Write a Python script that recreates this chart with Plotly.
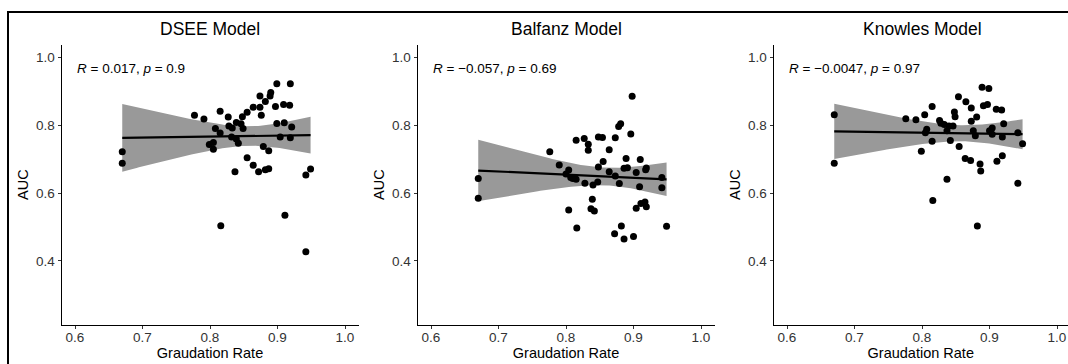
import numpy as np
import plotly.graph_objects as go

titles = ["DSEE Model", "Balfanz Model", "Knowles Model"]
stat_labels = ["<i>R</i> = 0.017, <i>p</i> = 0.9",
               "<i>R</i> = \u22120.057, <i>p</i> = 0.69",
               "<i>R</i> = \u22120.0047, <i>p</i> = 0.97"]
x_ticks = [0.6, 0.7, 0.8, 0.9, 1.0]
y_ticks = [0.4, 0.6, 0.8, 1.0]

grad_dsee = [0.670, 0.670, 0.777, 0.791, 0.815, 0.808, 0.815, 0.799, 0.805, 0.805,
             0.827, 0.828, 0.833, 0.839, 0.846, 0.849, 0.848, 0.855, 0.832, 0.839,
             0.842, 0.837, 0.816, 0.855, 0.864, 0.872, 0.882, 0.887, 0.879, 0.887,
             0.864, 0.874, 0.876, 0.874, 0.882, 0.889, 0.890, 0.899, 0.919, 0.897,
             0.909, 0.918, 0.899, 0.910, 0.921, 0.904, 0.919, 0.911, 0.942, 0.949,
             0.942]
auc_dsee = [0.722, 0.688, 0.829, 0.818, 0.841, 0.790, 0.777, 0.743, 0.749, 0.729,
            0.824, 0.798, 0.792, 0.808, 0.804, 0.790, 0.825, 0.838, 0.765, 0.759,
            0.747, 0.663, 0.504, 0.704, 0.682, 0.663, 0.669, 0.672, 0.737, 0.725,
            0.853, 0.853, 0.829, 0.886, 0.870, 0.886, 0.896, 0.922, 0.922, 0.855,
            0.861, 0.859, 0.805, 0.807, 0.795, 0.765, 0.763, 0.535, 0.653, 0.671,
            0.427]

grad_balfanz = [0.670, 0.670, 0.776, 0.790, 0.800, 0.804, 0.807, 0.810, 0.815, 0.804,
                0.816, 0.815, 0.827, 0.833, 0.833, 0.828, 0.840, 0.839, 0.837, 0.842,
                0.847, 0.848, 0.855, 0.848, 0.854, 0.864, 0.864, 0.873, 0.878, 0.881,
                0.873, 0.879, 0.872, 0.882, 0.886, 0.900, 0.898, 0.896, 0.889, 0.886,
                0.891, 0.904, 0.909, 0.904, 0.910, 0.918, 0.919, 0.911, 0.917, 0.919,
                0.942, 0.942, 0.949]
auc_balfanz = [0.643, 0.585, 0.722, 0.683, 0.656, 0.668, 0.646, 0.643, 0.641, 0.550,
               0.497, 0.756, 0.761, 0.744, 0.726, 0.629, 0.624, 0.582, 0.554, 0.547,
               0.633, 0.677, 0.693, 0.765, 0.764, 0.728, 0.663, 0.763, 0.796, 0.804,
               0.650, 0.628, 0.480, 0.503, 0.465, 0.472, 0.885, 0.774, 0.702, 0.673,
               0.675, 0.661, 0.619, 0.555, 0.699, 0.669, 0.674, 0.569, 0.574, 0.560,
               0.646, 0.616, 0.502]

grad_knowles = [0.670, 0.670, 0.776, 0.791, 0.804, 0.815, 0.807, 0.805, 0.799, 0.815,
                0.816, 0.826, 0.828, 0.833, 0.840, 0.846, 0.837, 0.842, 0.837, 0.848,
                0.849, 0.854, 0.855, 0.864, 0.872, 0.865, 0.873, 0.873, 0.881, 0.876,
                0.879, 0.886, 0.887, 0.882, 0.889, 0.899, 0.891, 0.897, 0.900, 0.904,
                0.904, 0.910, 0.918, 0.921, 0.919, 0.911, 0.919, 0.942, 0.942, 0.949]
auc_knowles = [0.831, 0.688, 0.819, 0.816, 0.831, 0.855, 0.788, 0.778, 0.723, 0.753,
               0.578, 0.814, 0.806, 0.802, 0.798, 0.798, 0.784, 0.755, 0.641, 0.839,
               0.825, 0.884, 0.737, 0.702, 0.696, 0.869, 0.851, 0.812, 0.824, 0.784,
               0.769, 0.686, 0.665, 0.503, 0.912, 0.908, 0.857, 0.861, 0.784, 0.792,
               0.773, 0.847, 0.845, 0.804, 0.765, 0.694, 0.710, 0.778, 0.629, 0.745]

xs_all = [grad_dsee, grad_balfanz, grad_knowles]
ys_all = [auc_dsee, auc_balfanz, auc_knowles]

W, H = 1068, 364
px_per_x = 675.0
zero6_px = [75.0, 431.0, 787.0]
y_top_px, y_bot_px = 44.6, 324.6
x_left_val = 0.58

fig = go.Figure()
T95 = 2.01

for i in range(3):
    x = np.array(xs_all[i]); y = np.array(ys_all[i])
    n = len(x)
    b1, b0 = np.polyfit(x, y, 1)
    xbar = x.mean(); sxx = ((x - xbar) ** 2).sum()
    resid = y - (b0 + b1 * x)
    s = np.sqrt((resid ** 2).sum() / (n - 2))
    xg = np.linspace(x.min(), x.max(), 80)
    yg = b0 + b1 * xg
    se = s * np.sqrt(1.0 / n + (xg - xbar) ** 2 / sxx)
    lo = yg - T95 * se; hi = yg + T95 * se
    xa = "x" if i == 0 else f"x{i+1}"
    ya = "y" if i == 0 else f"y{i+1}"
    fig.add_trace(go.Scatter(x=np.concatenate([xg, xg[::-1]]), y=np.concatenate([hi, lo[::-1]]),
                             fill="toself", fillcolor="rgb(153,153,153)", line=dict(width=0),
                             mode="lines", hoverinfo="skip", showlegend=False, xaxis=xa, yaxis=ya))
    fig.add_trace(go.Scatter(x=x, y=y, mode="markers",
                             marker=dict(color="black", size=7, line=dict(width=0)),
                             showlegend=False, xaxis=xa, yaxis=ya))
    fig.add_trace(go.Scatter(x=xg, y=yg, mode="lines", line=dict(color="black", width=2.2),
                             showlegend=False, xaxis=xa, yaxis=ya))

FONT = "Liberation Sans, Arial, sans-serif"
layout = dict(template="none", width=W, height=H, margin=dict(l=0, r=0, t=0, b=0),
              paper_bgcolor="white", plot_bgcolor="white", showlegend=False,
              font=dict(family=FONT, color="black"))

ydom = [1 - y_bot_px / H, 1 - y_top_px / H]
annotations = []
for i in range(3):
    left_px = zero6_px[i] - (0.6 - x_left_val) * px_per_x
    right_px = min(left_px + 0.44 * px_per_x, W)
    x_right_val = x_left_val + (right_px - left_px) / px_per_x
    key = "" if i == 0 else str(i + 1)
    layout["xaxis" + key] = dict(domain=[left_px / W, right_px / W], range=[x_left_val, x_right_val],
                                 tickvals=x_ticks, ticktext=[f"{v:.1f}" for v in x_ticks],
                                 showgrid=False, zeroline=False, showline=True, linecolor="black",
                                 linewidth=1, ticks="outside", ticklen=3, tickcolor="#333333",
                                 tickwidth=1, tickfont=dict(family=FONT, size=13.5, color="#333333"),
                                 ticklabelstandoff=-3,
                                 title=dict(text="Graudation Rate", font=dict(family=FONT, size=14.5, color="black"),
                                            standoff=0),
                                 anchor="y" + key, fixedrange=True)
    layout["yaxis" + key] = dict(domain=ydom, range=[0.2125, 1.0375],
                                 tickvals=y_ticks, ticktext=[f"{v:.1f}" for v in y_ticks],
                                 showgrid=False, zeroline=False, showline=True, linecolor="black",
                                 linewidth=1, ticks="outside", ticklen=3, tickcolor="#333333",
                                 tickwidth=1, tickfont=dict(family=FONT, size=13.5, color="#333333"),
                                 title=dict(text="AUC", font=dict(family=FONT, size=14.5, color="black"), standoff=3),
                                 anchor="x" + key, fixedrange=True)
    annotations.append(dict(text=titles[i], x=(left_px + 148.5) / W, y=1 - 29 / H,
                            xref="paper", yref="paper", showarrow=False,
                            font=dict(family=FONT, size=17.5, color="black"), xanchor="center", yanchor="middle"))
    annotations.append(dict(text=stat_labels[i], x=0.6, y=0.966,
                            xref="x" + key, yref="y" + key, showarrow=False,
                            font=dict(family=FONT, size=13.5, color="black"), xanchor="left", yanchor="middle"))
layout["annotations"] = annotations
layout["shapes"] = [dict(type="rect", xref="paper", yref="paper",
                         x0=8 / W, x1=1.02, y0=-0.05, y1=1 - 12 / H,
                         line=dict(color="black", width=2), fillcolor="rgba(0,0,0,0)")]
fig.update_layout(**layout)
fig.write_html("out.html")
